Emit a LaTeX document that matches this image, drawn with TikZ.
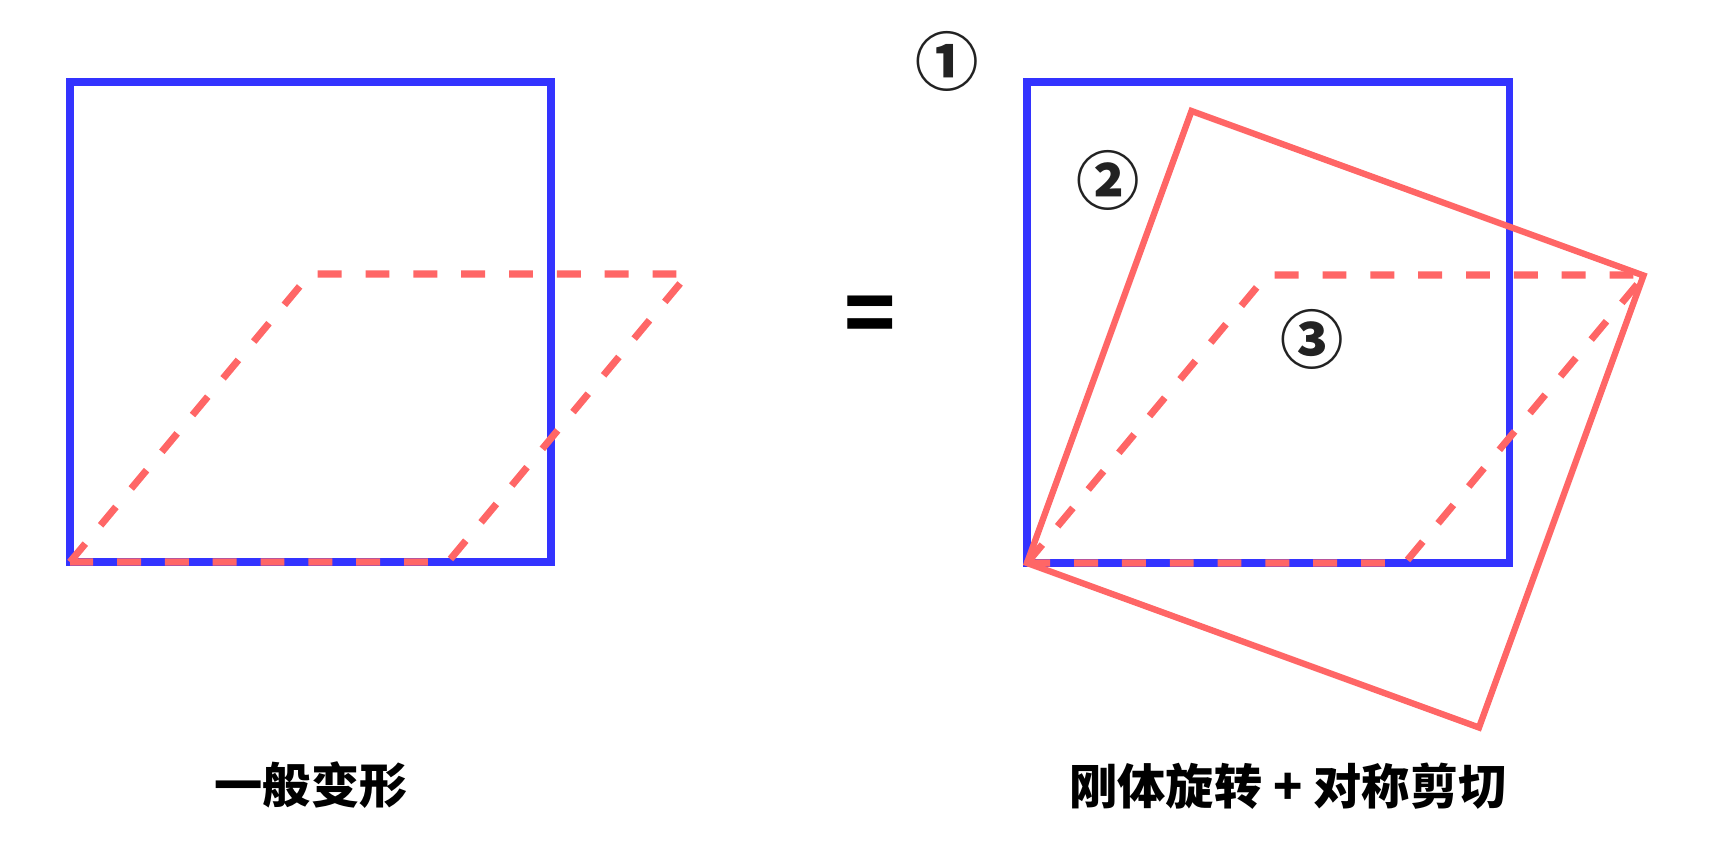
\documentclass[tikz,border=0pt]{standalone}
\usepackage{fontspec}
\usepackage{xcolor}
\usepackage{tikz}
\newfontfamily\cjk{Noto Sans CJK SC}
\definecolor{sqblue}{HTML}{3333FF}
\definecolor{salmon}{HTML}{FF6666}
\definecolor{ink}{HTML}{222222}

\tikzset{
  bluebox/.style={draw=sqblue, line width=2pt},
  rotbox/.style={draw=salmon, line width=1.8pt, line join=miter},
  shearline/.style={draw=salmon, line width=2pt, dash pattern=on 6.8pt off 6.8pt},
  caption/.style={inner sep=0pt, font={\cjk\bfseries\fontsize{13.7}{16}\selectfont}},
  circnum/.style={inner sep=0pt, text=ink, font={\cjk\bfseries\fontsize{18}{20}\selectfont}}
}

\begin{document}
\begin{tikzpicture}[x=0.01cm, y=-0.01cm]
\useasboundingbox (0,0) rectangle (1712,848);
% left: general deformation
\coordinate (lo) at (70,562);
\draw[bluebox] (70,82) rectangle (551,562);
\draw[shearline] (lo) -- ++(240,-288) -- ++(378,0) -- ++(-240,288) -- cycle;
\node[caption] (gen) at (311,785) {一般变形};
% equals sign
\node[inner sep=0pt, font={\cjk\bfseries\fontsize{24}{26}\selectfont}] (eq) at (870,320) {=};
% right: rotation + symmetric shear
\coordinate (ro) at (1027,563);
\draw[bluebox] (1027,82) rectangle (1509,563);
\draw[rotbox] (ro) -- ++(164.5,-452) -- ++(452,164.5) -- ++(-164.5,452) -- cycle;
\draw[shearline] (ro) -- ++(240,-288) -- ++(378,0) -- ++(-240,288) -- cycle;
\node[circnum] (n1) at (947,61) {①};
\node[circnum] (n2) at (1108,180) {②};
\node[circnum] (n3) at (1312,339) {③};
\node[caption] (dec) at (1288,786) {刚体旋转 + 对称剪切};
\end{tikzpicture}
\end{document}
